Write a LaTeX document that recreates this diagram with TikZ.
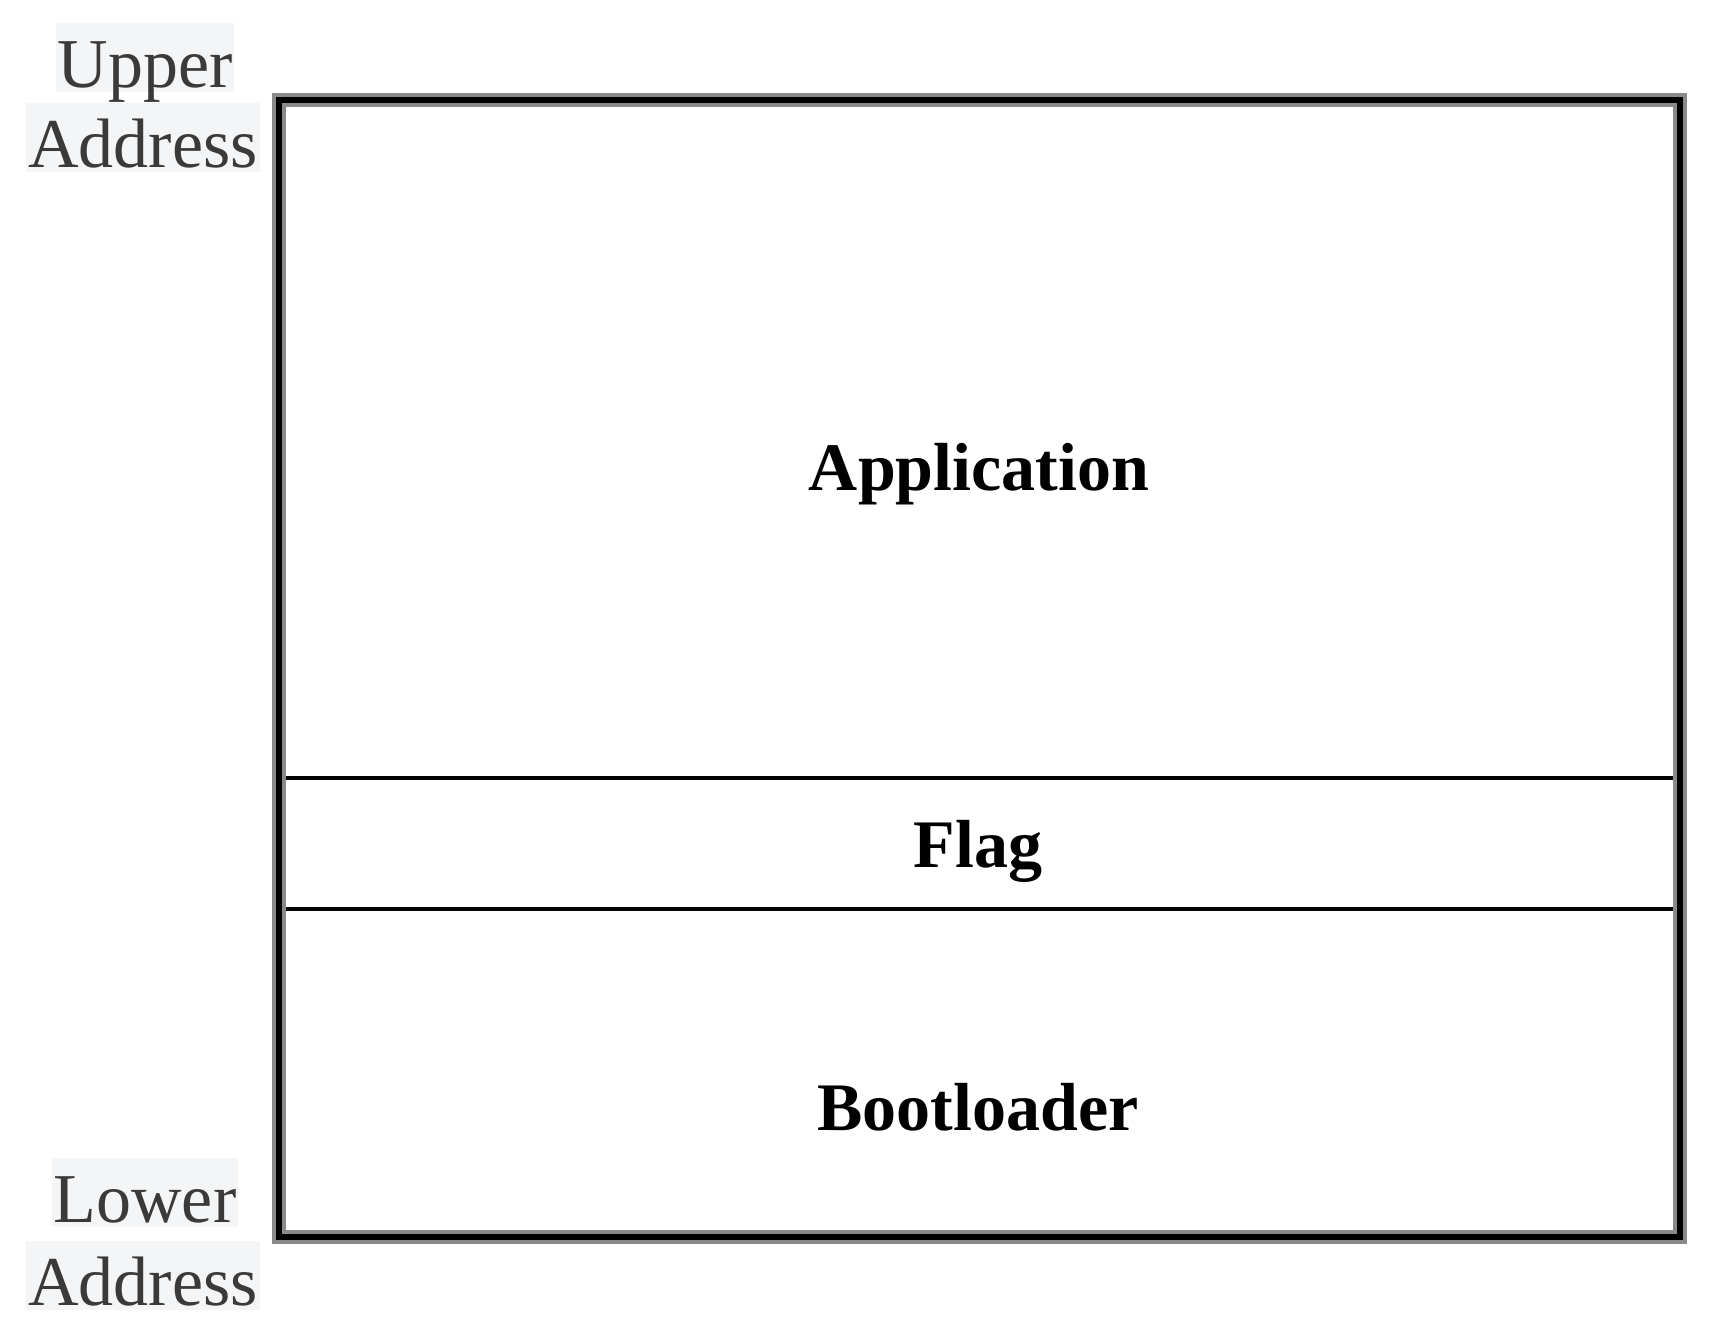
\documentclass[tikz,border=0pt]{standalone}
\usepackage{fontspec}
\setmainfont{Liberation Serif}
\usepackage{tikz}

\definecolor{labelink}{HTML}{3A3A3A}
\definecolor{labelbg}{HTML}{F4F5F6}
\definecolor{rimgray}{HTML}{8A8A8A}

\tikzset{
	addr/.style={anchor=base, fill=labelbg, text=labelink, inner xsep=1pt, inner ysep=0pt,
		text height=32pt, text depth=2.5pt, font=\fontsize{35}{40}\selectfont},
	region/.style={anchor=base, font=\fontsize{34}{40}\selectfont\bfseries}
}

\begin{document}
\begin{tikzpicture}[x=0.5pt,y=0.5pt,yscale=-1,xscale=1]

	\useasboundingbox (0,0) rectangle (1711,1334);

	\coordinate (tl) at (279,100);
	\coordinate (br) at (1680,1237);
	\coordinate (ul) at (279,778);
	\coordinate (ur) at (1680,778);
	\coordinate (ll) at (279,909);
	\coordinate (lr) at (1680,909);

	\draw [line width=2.2pt]   (ul) -- (ur) ;
	\draw [line width=2.2pt]   (ll) -- (lr) ;
	\draw [rimgray, line width=7pt]   (tl) rectangle (br) ;
	\draw [line width=3pt]   (tl) rectangle (br) ;

	\draw (979,490) node [region] (app) {Application};
	\draw (978,867) node [region] (flag) {Flag};
	\draw (978,1130) node [region] (boot) {Bootloader};

	\draw (145,87) node [addr] (upper) {Upper};
	\draw (143,167) node [addr] (upaddr) {Address};
	\draw (145,1222) node [addr] (lower) {Lower};
	\draw (143,1305) node [addr] (lowaddr) {Address};

\end{tikzpicture}
\end{document}
